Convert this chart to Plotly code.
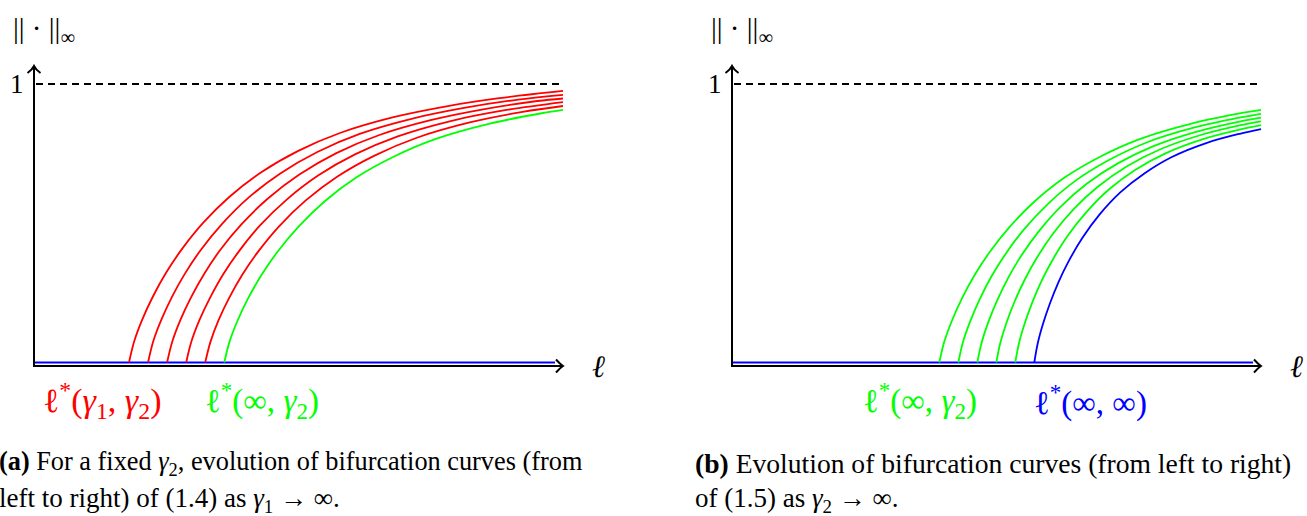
import plotly.graph_objects as go

# ---------------------------------------------------------------------------
# Bifurcation branches: sup-norm of the solution against the parameter ell
# ---------------------------------------------------------------------------

# (a) fixed gamma_2, gamma_1 increasing: red branches, green limit branch
RED_ELL = [
    [1.796, 1.896, 2.046, 2.246, 2.496, 2.796, 3.196, 3.696, 4.296, 4.996, 5.796, 6.796, 7.796, 8.796, 10.0],
    [2.156, 2.256, 2.406, 2.606, 2.856, 3.156, 3.556, 4.056, 4.656, 5.356, 6.156, 7.156, 8.156, 9.156, 10.0],
    [2.516, 2.616, 2.766, 2.966, 3.216, 3.516, 3.916, 4.416, 5.016, 5.716, 6.516, 7.516, 8.516, 9.516, 10.0],
    [2.877, 2.977, 3.127, 3.327, 3.577, 3.877, 4.277, 4.777, 5.377, 6.077, 6.877, 7.877, 8.877, 10.0],
    [3.237, 3.337, 3.487, 3.687, 3.937, 4.237, 4.637, 5.137, 5.737, 6.437, 7.237, 8.237, 9.237, 10.0],
]
RED_NORM = [
    [0, 0.077, 0.154, 0.236, 0.322, 0.407, 0.501, 0.595, 0.683, 0.760, 0.825, 0.881, 0.920, 0.949, 0.975],
    [0, 0.077, 0.153, 0.235, 0.320, 0.405, 0.498, 0.592, 0.679, 0.756, 0.821, 0.876, 0.915, 0.944, 0.961],
    [0, 0.076, 0.152, 0.233, 0.318, 0.403, 0.495, 0.588, 0.675, 0.752, 0.816, 0.871, 0.910, 0.939, 0.948],
    [0, 0.076, 0.152, 0.232, 0.317, 0.400, 0.493, 0.585, 0.672, 0.748, 0.812, 0.867, 0.905, 0.935],
    [0, 0.075, 0.151, 0.231, 0.315, 0.398, 0.490, 0.582, 0.668, 0.743, 0.807, 0.862, 0.900, 0.921],
]
LIMIT_A_ELL = [3.597, 3.697, 3.847, 4.047, 4.297, 4.597, 4.997, 5.497, 6.097, 6.797, 7.597, 8.597, 9.597, 10.0]
LIMIT_A_NORM = [0, 0.075, 0.150, 0.230, 0.313, 0.396, 0.487, 0.579, 0.665, 0.739, 0.803, 0.857, 0.895, 0.907]

# (b) gamma_2 increasing: green branches, blue limit branch
GREEN_ELL = [
    [3.919, 4.014, 4.157, 4.347, 4.584, 4.869, 5.249, 5.724, 6.294, 6.959, 7.719, 8.669, 9.619, 10.0],
    [4.278, 4.367, 4.501, 4.679, 4.901, 5.168, 5.524, 5.969, 6.503, 7.126, 7.838, 8.728, 9.618, 10.0],
    [4.637, 4.720, 4.845, 5.011, 5.218, 5.467, 5.799, 6.214, 6.712, 7.293, 7.957, 8.787, 9.617, 10.0],
    [4.996, 5.073, 5.189, 5.343, 5.535, 5.766, 6.074, 6.459, 6.921, 7.460, 8.076, 8.846, 9.616, 10.0],
    [5.355, 5.426, 5.533, 5.675, 5.852, 6.065, 6.349, 6.704, 7.130, 7.627, 8.195, 8.905, 9.615, 10.0],
]
GREEN_NORM = [
    [0, 0.075, 0.150, 0.230, 0.313, 0.396, 0.487, 0.579, 0.665, 0.739, 0.803, 0.857, 0.895, 0.907],
    [0, 0.074, 0.147, 0.226, 0.308, 0.389, 0.479, 0.569, 0.654, 0.727, 0.790, 0.843, 0.880, 0.893],
    [0, 0.072, 0.145, 0.222, 0.303, 0.383, 0.471, 0.560, 0.643, 0.715, 0.776, 0.829, 0.866, 0.879],
    [0, 0.071, 0.143, 0.219, 0.298, 0.377, 0.464, 0.551, 0.632, 0.704, 0.764, 0.816, 0.852, 0.866],
    [0, 0.070, 0.140, 0.215, 0.293, 0.370, 0.456, 0.541, 0.622, 0.692, 0.751, 0.802, 0.837, 0.852],
]
LIMIT_B_ELL = [5.715, 5.780, 5.878, 6.008, 6.170, 6.365, 6.625, 6.950, 7.340, 7.795, 8.315, 8.965, 9.615, 10.0]
LIMIT_B_NORM = [0, 0.069, 0.138, 0.211, 0.288, 0.364, 0.448, 0.532, 0.611, 0.679, 0.738, 0.788, 0.822, 0.838]

# trivial branch u = 0
TRIVIAL_ELL = [0, 9.85]
TRIVIAL_NORM = [0, 0]

# ---------------------------------------------------------------------------
W, H = 1307, 516
PX_PER_ELL = 52.9
PX_PER_NORM = 278.5
ORIGIN = {"x": 34.0, "x2": 732.0}   # pixel column of ell = 0 in each panel
ZERO_ROW = 362.5                      # pixel row of norm = 0
AXIS_ROW = 366.0                      # pixel row of the drawn horizontal axis
SPLIT = 653.5

RED, GREEN, BLUE = "#ff0000", "#00ff00", "#0000ff"
FONT = "Liberation Serif, Times New Roman, DejaVu Serif, serif"
FS = 27


def px(x):
    return x / W


def py(y):
    return 1 - y / H


fig = go.Figure()


def branch(xa, ya, ell, norm, color):
    fig.add_trace(go.Scatter(
        x=ell, y=norm, xaxis=xa, yaxis=ya, mode="lines",
        line=dict(color=color, width=1.8, shape="spline", smoothing=1.0),
        hoverinfo="skip", showlegend=False))


# panel (a)
branch("x", "y", TRIVIAL_ELL, TRIVIAL_NORM, BLUE)
for ell, norm in zip(RED_ELL, RED_NORM):
    branch("x", "y", ell, norm, RED)
branch("x", "y", LIMIT_A_ELL, LIMIT_A_NORM, GREEN)

# panel (b)
branch("x2", "y2", TRIVIAL_ELL, TRIVIAL_NORM, BLUE)
for ell, norm in zip(GREEN_ELL, GREEN_NORM):
    branch("x2", "y2", ell, norm, GREEN)
branch("x2", "y2", LIMIT_B_ELL, LIMIT_B_NORM, BLUE)

# hand-drawn style axes with open arrow heads
shapes = []
annotations = []
for key in ("x", "x2"):
    x0 = ORIGIN[key]
    x_end = x0 + 10 * PX_PER_ELL
    y_one = ZERO_ROW - PX_PER_NORM
    blk = dict(color="black", width=2)
    shapes.append(dict(type="line", xref="paper", yref="paper",
                       x0=px(x0), y0=py(AXIS_ROW + 1), x1=px(x0), y1=py(66), line=blk))
    shapes.append(dict(type="line", xref="paper", yref="paper",
                       x0=px(x0 - 1), y0=py(AXIS_ROW), x1=px(x_end), y1=py(AXIS_ROW), line=blk))
    # arrow head on the ell axis
    shapes.append(dict(type="path", xref="paper", yref="paper", line=blk,
                       path=(f"M {px(x_end - 7)} {py(AXIS_ROW - 6.5)} "
                             f"Q {px(x_end - 3)} {py(AXIS_ROW - 2)} {px(x_end)} {py(AXIS_ROW)} "
                             f"Q {px(x_end - 3)} {py(AXIS_ROW + 2)} {px(x_end - 7)} {py(AXIS_ROW + 6.5)}")))
    # arrow head on the norm axis
    shapes.append(dict(type="path", xref="paper", yref="paper", line=blk,
                       path=(f"M {px(x0 - 6.5)} {py(73)} "
                             f"Q {px(x0 - 2)} {py(70)} {px(x0)} {py(66)} "
                             f"Q {px(x0 + 2)} {py(70)} {px(x0 + 6.5)} {py(73)}")))
    # level norm = 1
    shapes.append(dict(type="line", xref="paper", yref="paper",
                       x0=px(x0 + 2), y0=py(y_one), x1=px(x_end), y1=py(y_one),
                       line=dict(color="black", width=2, dash="7px,5px")))

    annotations.append(dict(text="1", x=px(x0 - 17), y=py(y_one)))
    annotations.append(dict(text="<i>ℓ</i>", x=px(x_end + 35), y=py(AXIS_ROW), size=31))
    annotations.append(dict(text="|| · ||<sub>∞</sub>", x=px(x0 - 23), y=py(30),
                            xanchor="left", size=29))

STAR = "ℓ<sup>*</sup>"
annotations += [
    dict(text=f"{STAR}(<i>γ</i><sub>1</sub>, <i>γ</i><sub>2</sub>)", x=px(102), y=py(400),
         color=RED, size=34),
    dict(text=f"{STAR}(∞, <i>γ</i><sub>2</sub>)", x=px(262), y=py(400), color=GREEN, size=33),
    dict(text=f"{STAR}(∞, <i>γ</i><sub>2</sub>)", x=px(920), y=py(400), color=GREEN, size=33),
    dict(text=f"{STAR}(∞, ∞)", x=px(1090), y=py(400), color=BLUE, size=33),
    dict(text="<b>(a)</b> For a fixed <i>γ</i><sub>2</sub>, evolution of bifurcation curves (from",
         x=px(-3), y=py(463), xanchor="left", size=26.3),
    dict(text="left to right) of (1.4) as <i>γ</i><sub>1</sub> → ∞.",
         x=px(-3), y=py(500), xanchor="left"),
    dict(text="<b>(b)</b> Evolution of bifurcation curves (from left to right)",
         x=px(693), y=py(463), xanchor="left", size=27.6),
    dict(text="of (1.5) as <i>γ</i><sub>2</sub> → ∞.",
         x=px(693), y=py(500), xanchor="left"),
]

ann_list = []
for a in annotations:
    color = a.pop("color", "black")
    size = a.pop("size", FS)
    a.setdefault("xanchor", "center")
    ann_list.append(dict(xref="paper", yref="paper", showarrow=False, yanchor="middle",
                         font=dict(family=FONT, size=size, color=color), **a))


def xrange(key, left, right):
    return [(left - ORIGIN[key]) / PX_PER_ELL, (right - ORIGIN[key]) / PX_PER_ELL]


yr = [(ZERO_ROW - H) / PX_PER_NORM, ZERO_ROW / PX_PER_NORM]
hidden = dict(visible=False, showgrid=False, zeroline=False, fixedrange=True)

fig.update_layout(
    width=W, height=H,
    margin=dict(l=0, r=0, t=0, b=0),
    paper_bgcolor="white", plot_bgcolor="white",
    showlegend=False,
    xaxis=dict(domain=[0, SPLIT / W], range=xrange("x", 0, SPLIT), anchor="y", **hidden),
    yaxis=dict(domain=[0, 1], range=yr, anchor="x", **hidden),
    xaxis2=dict(domain=[SPLIT / W, 1], range=xrange("x2", SPLIT, W), anchor="y2", **hidden),
    yaxis2=dict(domain=[0, 1], range=yr, anchor="x2", **hidden),
    shapes=shapes,
    annotations=ann_list,
)

fig.write_html("out.html")
